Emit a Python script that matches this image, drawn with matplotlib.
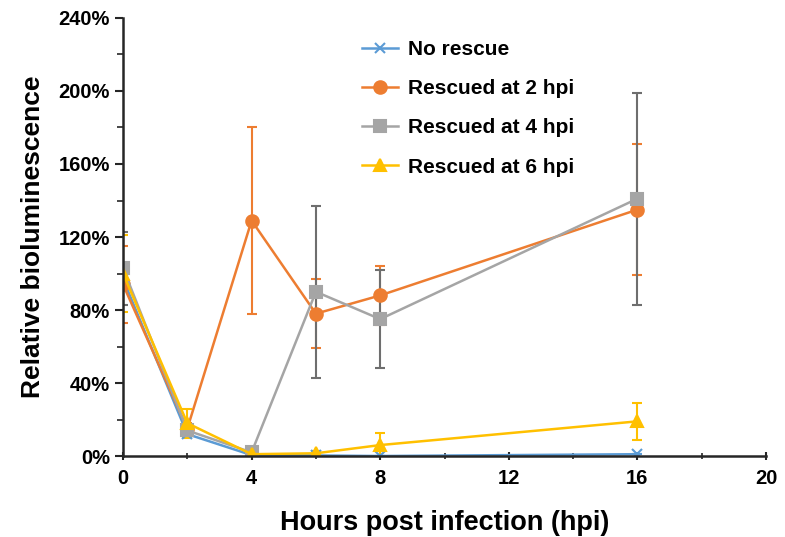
import matplotlib
matplotlib.use("Agg")
import matplotlib.pyplot as plt
from matplotlib.ticker import MultipleLocator, PercentFormatter

plt.rcParams["font.family"] = ["Liberation Sans", "DejaVu Sans"]
plt.rcParams["font.weight"] = "bold"

# Hours post infection
hours = [0, 2, 4, 6, 8, 16]

# Relative bioluminescence (%) and error bars
no_rescue = [97, 12, 0.5, 0.3, 0, 1]
no_rescue_err = [0, 1, 0, 0, 0, 0]
rescued_2 = [94, 15, 129, 78, 88, 135]
rescued_2_err = [21, 3, 51, 19, 16, 36]
rescued_4 = [103, 14, 2, 90, 75, 141]
rescued_4_err = [20, 2, 1, 47, 27, 58]
rescued_6 = [100, 18, 1, 1.5, 6, 19]
rescued_6_err = [21, 8, 1, 1, 6.5, 10]

labels = ["No rescue", "Rescued at 2 hpi", "Rescued at 4 hpi", "Rescued at 6 hpi"]

fig = plt.figure(figsize=(7.85, 5.37), dpi=100)
ax = fig.add_axes([0.1567, 0.1508, 0.8191, 0.8157])

series = [
    (no_rescue, no_rescue_err, "#5B9BD5", "#5B9BD5", "x", 7),
    (rescued_2, rescued_2_err, "#ED7D31", "#ED7D31", "o", 9),
    (rescued_4, rescued_4_err, "#A5A5A5", "#6E6E6E", "s", 8.5),
    (rescued_6, rescued_6_err, "#FFC000", "#FFC000", "^", 9),
]

handles = []
for (vals, err, col, ecol, mk, ms), lab in zip(series, labels):
    c = ax.errorbar(hours, vals, yerr=err, color=col, ecolor=ecol, elinewidth=1.5,
                    capsize=3.5, capthick=1.5, marker=mk, markersize=ms,
                    markeredgewidth=1.5, linewidth=1.8, label=lab)
    handles.append(c[0])

ax.set_xlim(0, 20)
ax.set_ylim(0, 240)
ax.xaxis.set_major_locator(MultipleLocator(4))
ax.xaxis.set_minor_locator(MultipleLocator(2))
ax.yaxis.set_major_locator(MultipleLocator(40))
ax.yaxis.set_minor_locator(MultipleLocator(20))
ax.yaxis.set_major_formatter(PercentFormatter(decimals=0))

ax.spines["top"].set_visible(False)
ax.spines["right"].set_visible(False)
for s in ("left", "bottom"):
    ax.spines[s].set_linewidth(1.8)
    ax.spines[s].set_color("#262626")

ax.tick_params(axis="both", which="major", labelsize=14.5, width=1.5, length=6,
               color="#262626")
ax.tick_params(axis="x", which="both", direction="inout")
ax.tick_params(axis="x", which="major", pad=6)
ax.tick_params(axis="y", which="minor", length=4, width=1.2, color="#262626")
ax.tick_params(axis="x", which="minor", length=5, width=1.2, color="#262626")
for t in ax.get_xticklabels() + ax.get_yticklabels():
    t.set_fontweight("bold")

ax.set_xlabel("Hours post infection (hpi)", fontsize=19.5, fontweight="bold",
              labelpad=16)
ax.set_ylabel("Relative bioluminescence", fontsize=19, fontweight="bold",
              labelpad=10)

ax.legend(handles, labels, loc="upper left", bbox_to_anchor=(0.372, 0.95),
          frameon=False, labelspacing=0.97, handlelength=1.7,
          handletextpad=0.5, borderpad=0, borderaxespad=0,
          prop={"weight": "bold", "size": 15})

fig.savefig("out.png", dpi=100)
